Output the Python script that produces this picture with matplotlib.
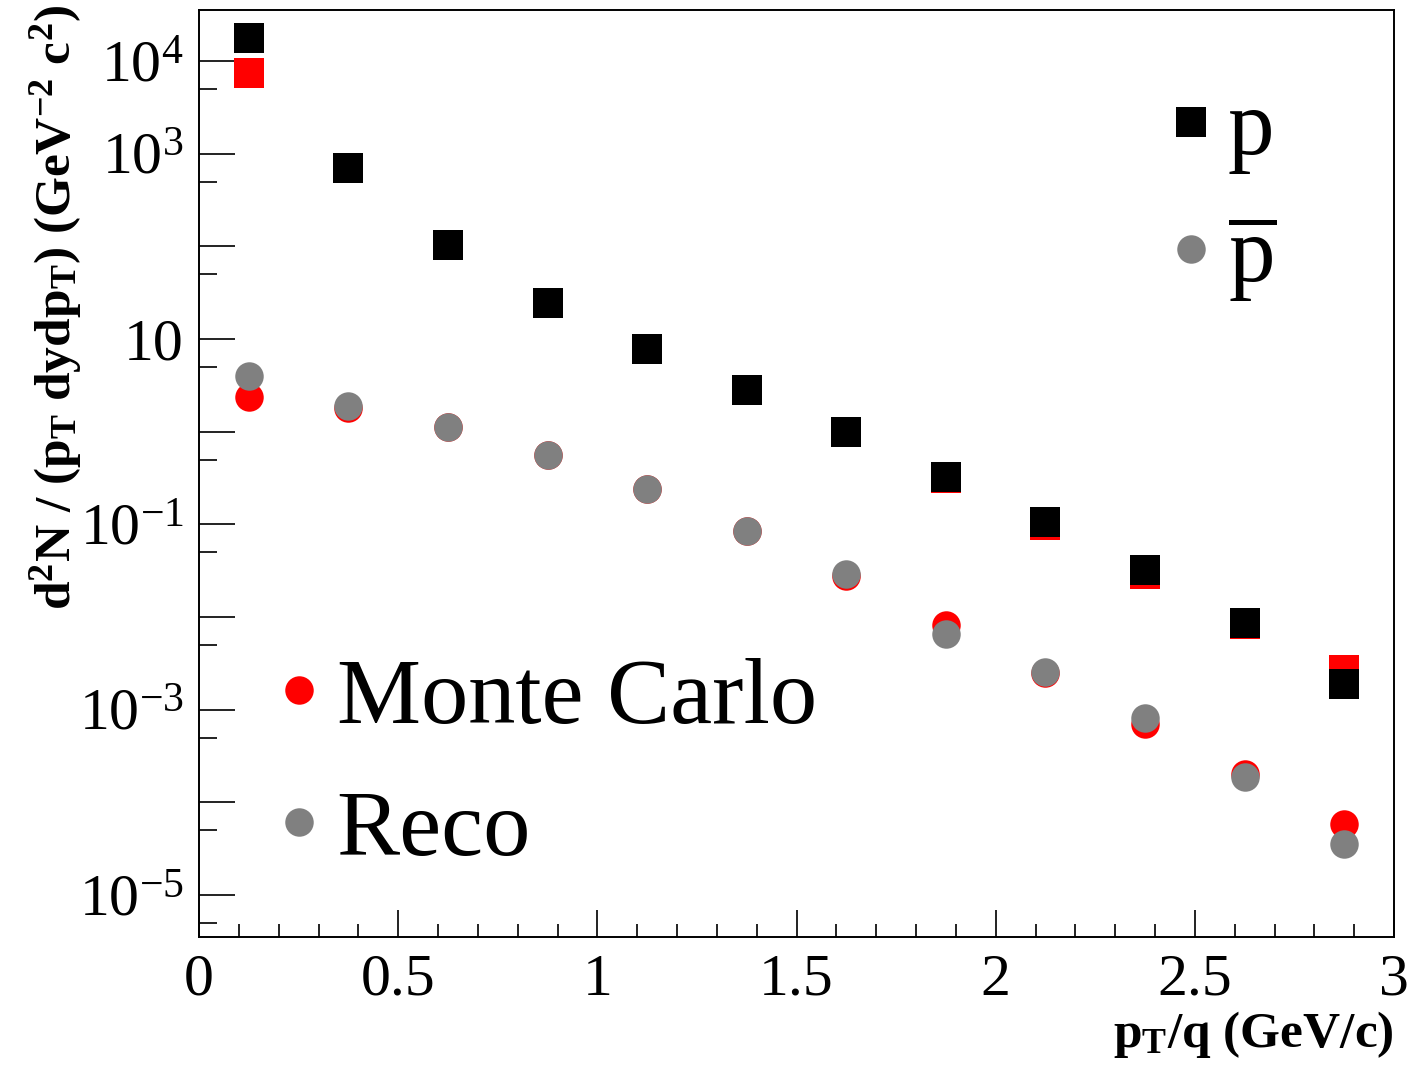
import matplotlib
matplotlib.use("Agg")
import matplotlib.pyplot as plt
from matplotlib.ticker import FixedLocator, FuncFormatter
from matplotlib.lines import Line2D

plt.rcParams['font.family'] = ['Liberation Serif', 'DejaVu Serif']
plt.rcParams['mathtext.fontset'] = 'custom'
plt.rcParams['mathtext.rm'] = 'Liberation Serif'
plt.rcParams['mathtext.it'] = 'Liberation Serif:italic'
plt.rcParams['mathtext.bf'] = 'Liberation Serif:bold'

# ---------------- data ----------------
pt_centers = [0.125, 0.375, 0.625, 0.875, 1.125, 1.375, 1.625, 1.875, 2.125, 2.375, 2.625, 2.875]
p_reco = [1.79e4, 692, 102, 24.2, 7.8, 2.82, 0.98, 0.325, 0.106, 0.032, 0.00853, 0.0019]
p_mc = [7.5e3, 692, 102, 24.2, 7.8, 2.82, 0.98, 0.313, 0.0989, 0.0288, 0.00832, 0.00266]
pbar_reco = [4.0, 1.87, 1.12, 0.562, 0.239, 0.0847, 0.0290, 0.00659, 0.00256, 8.17e-4, 1.88e-4, 3.53e-5]
pbar_mc = [2.39, 1.81, 1.12, 0.562, 0.239, 0.0847, 0.0278, 0.00816, 0.0025, 6.96e-4, 2.02e-4, 5.85e-5]

y_major = [1e-5, 1e-4, 1e-3, 1e-2, 1e-1, 1, 10, 1e2, 1e3, 1e4]
y_minor = [5e-6, 5e-5, 5e-4, 5e-3, 5e-2, 5e-1, 5, 50, 5e2, 5e3]
y_labeled = {1e-5: r'$10^{-5}$', 1e-3: r'$10^{-3}$', 1e-1: r'$10^{-1}$',
             10: '10', 1e3: r'$10^{3}$', 1e4: r'$10^{4}$'}
x_major = [0, 0.5, 1, 1.5, 2, 2.5, 3]
x_labels = ['0', '0.5', '1', '1.5', '2', '2.5', '3']

RED = '#ff0000'
BLACK = '#000000'
GRAY = '#808080'

W, H = 1422, 1074
fig = plt.figure(figsize=(W / 100, H / 100), dpi=100)
ax = fig.add_axes([199 / W, 1 - 937 / H, (1394 - 199) / W, (937 - 10) / H])

ms_sq = 21
ms_c = 20.5
ax.plot(pt_centers, p_mc, ls='none', marker='s', ms=ms_sq, mfc=RED, mec=RED, mew=0)
ax.plot(pt_centers, p_reco, ls='none', marker='s', ms=ms_sq, mfc=BLACK, mec=BLACK, mew=0)
ax.plot(pt_centers, pbar_mc, ls='none', marker='o', ms=ms_c, mfc=RED, mec=RED, mew=0)
ax.plot(pt_centers, pbar_reco, ls='none', marker='o', ms=ms_c, mfc=GRAY, mec=GRAY, mew=0)

ax.set_yscale('log')
ax.set_xlim(0, 3)
ax.set_ylim(10 ** -5.4526, 10 ** 4.5496)

ax.yaxis.set_major_locator(FixedLocator(y_major))
ax.yaxis.set_minor_locator(FixedLocator(y_minor))
ax.yaxis.set_major_formatter(FuncFormatter(
    lambda v, pos: next((s for k, s in y_labeled.items() if abs(v / k - 1) < 1e-6), '')))
ax.yaxis.set_minor_formatter(FuncFormatter(lambda v, pos: ''))
ax.xaxis.set_major_locator(FixedLocator(x_major))
ax.set_xticklabels(x_labels)
ax.xaxis.set_minor_locator(FixedLocator([0.1, 0.2, 0.3, 0.4, 0.6, 0.7, 0.8, 0.9, 1.1, 1.2, 1.3, 1.4,
                                         1.6, 1.7, 1.8, 1.9, 2.1, 2.2, 2.3, 2.4, 2.6, 2.7, 2.8, 2.9]))

for s in ax.spines.values():
    s.set_linewidth(1.4)
ax.tick_params(axis='both', which='both', direction='in', top=False, right=False,
               width=1.4, color='#222222', labelsize=43)
ax.tick_params(axis='y', which='major', length=26, pad=11)
ax.tick_params(axis='y', which='minor', length=13)
ax.tick_params(axis='x', which='major', length=19.5, pad=12)
ax.tick_params(axis='x', which='minor', length=9.5)

# axis titles
fig.text(1394 / W, 1 - 1047 / H, r'p$_{\mathbf{T}}$/q (GeV/c)', fontsize=37, fontweight='bold',
         ha='right', va='baseline')
fig.text(56 / W, 1 - 5 / H,
         r'd$^{\mathbf{2}}$N / (p$_{\mathbf{T}}$ dydp$_{\mathbf{T}}$) (GeV$^{\mathbf{-2}}$ c$^{\mathbf{2}}$)',
         fontsize=37, fontweight='bold', rotation=90, ha='center', va='top')

# legends
h_p = Line2D([], [], ls='none', marker='s', ms=ms_sq, mfc=BLACK, mew=0)
h_pb = Line2D([], [], ls='none', marker='o', ms=ms_c, mfc=GRAY, mew=0)
leg1 = ax.legend([h_p, h_pb], ['p', r'$\overline{\mathrm{p}}$'], loc='upper left',
                 bbox_to_anchor=(1172 / W, 1 - 89 / H), bbox_transform=fig.transFigure,
                 frameon=False, fontsize=67, handlelength=0.4, handletextpad=0.2,
                 labelspacing=0.42, borderpad=0, borderaxespad=0)
ax.add_artist(leg1)
h_mc = Line2D([], [], ls='none', marker='o', ms=ms_c, mfc=RED, mew=0)
h_rc = Line2D([], [], ls='none', marker='o', ms=ms_c, mfc=GRAY, mew=0)
ax.legend([h_mc, h_rc], ['Monte Carlo', 'Reco'], loc='upper left',
          bbox_to_anchor=(280 / W, 1 - 657 / H), bbox_transform=fig.transFigure,
          frameon=False, fontsize=68, handlelength=0.4, handletextpad=0.2,
          labelspacing=0.49, borderpad=0, borderaxespad=0)

fig.savefig('out.png', dpi=100)
